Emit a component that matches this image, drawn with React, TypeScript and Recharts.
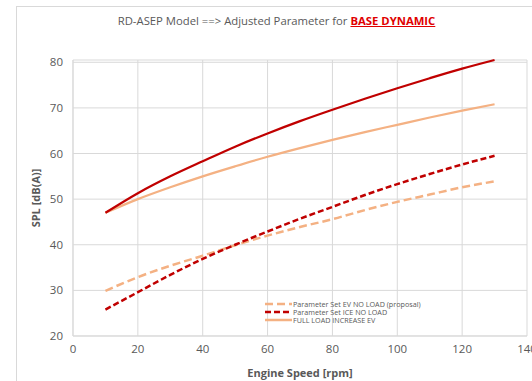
import { LineChart, Line, XAxis, YAxis, CartesianGrid } from 'recharts';

const speeds = [10, 20, 30, 40, 50, 60, 70, 80, 90, 100, 110, 120, 130];
const fullLoadIce = [47, 51.3, 55.0, 58.3, 61.5, 64.4, 67.1, 69.6, 72.0, 74.3, 76.5, 78.6, 80.5];
const fullLoadEv = [47, 50.0, 52.6, 55.0, 57.2, 59.3, 61.2, 63.0, 64.7, 66.3, 67.9, 69.4, 70.8];
const iceNoLoad = [25.8, 29.6, 33.4, 36.9, 40.0, 42.9, 45.7, 48.3, 50.9, 53.3, 55.5, 57.6, 59.5];
const evNoLoad = [29.9, 32.9, 35.4, 37.6, 39.9, 42.0, 43.9, 45.6, 47.6, 49.4, 51.0, 52.6, 53.9];

const xTicks = [0, 20, 40, 60, 80, 100, 120, 140];
const yTicks = [20, 30, 40, 50, 60, 70, 80];

const data = speeds.map((s, i) => ({
  speed: s,
  fullIce: fullLoadIce[i],
  fullEv: fullLoadEv[i],
  iceNL: iceNoLoad[i],
  evNL: evNoLoad[i],
}));

const DARK = '#C00000';
const LIGHT = '#F4B183';
const GRID = '#D9D9D9';
const TEXT = '#595959';
const FONT = '"Open Sans", sans-serif';

const legendItems = [
  { label: 'Parameter Set EV NO LOAD (proposal)', color: LIGHT, dash: '8 4' },
  { label: 'Parameter Set ICE NO LOAD', color: DARK, dash: '6 3' },
  { label: 'FULL LOAD INCREASE EV', color: LIGHT, dash: '' },
];

// legend sits inside the plot area, like the Excel original
function ChartLegend() {
  return (
    <div
      style={{
        position: 'absolute',
        left: 265,
        top: 300,
        fontFamily: FONT,
        fontSize: 7.2,
        color: TEXT,
        lineHeight: '8px',
      }}
    >
      {legendItems.map((it) => (
        <div key={it.label} style={{ display: 'flex', alignItems: 'center', whiteSpace: 'nowrap', height: 8 }}>
          <svg width={27} height={6}>
            <line x1={0} y1={3} x2={27} y2={3} stroke={it.color} strokeWidth={2.5} strokeDasharray={it.dash || undefined} />
          </svg>
          <span style={{ marginLeft: 1, lineHeight: '8px' }}>{it.label}</span>
        </div>
      ))}
    </div>
  );
}

export default function App() {
  return (
    <div style={{ position: 'absolute', left: 0, top: 0, width: 532, height: 381, background: '#fff', overflow: 'hidden' }}>
      <div
        style={{
          position: 'absolute',
          left: 16,
          top: 6,
          width: 600,
          height: 500,
          border: '1px solid #D9D9D9',
        }}
      />
      <div
        style={{
          position: 'absolute',
          left: 0,
          top: 13,
          width: 553,
          textAlign: 'center',
          fontFamily: FONT,
          fontSize: 11.3,
          color: TEXT,
          whiteSpace: 'nowrap',
        }}
      >
        RD-ASEP Model ==&gt; Adjusted Parameter for{' '}
        <span style={{ color: '#E00000', fontWeight: 'bold', textDecoration: 'underline' }}>BASE DYNAMIC</span>
      </div>
      <div style={{ position: 'absolute', left: 0, top: 0 }}>
        <LineChart width={532} height={381} data={data} margin={{ top: 60, right: 5, bottom: 0, left: 0 }}>
          <CartesianGrid stroke={GRID} strokeWidth={1} />
          <XAxis
            dataKey="speed"
            type="number"
            domain={[0, 140]}
            ticks={xTicks}
            interval={0}
            height={45}
            stroke={GRID}
            tickLine={false}
            tickSize={0}
            tickMargin={9}
            tick={{ fill: TEXT, fontSize: 11.5, fontFamily: FONT }}
            label={{
              value: 'Engine Speed [rpm]',
              position: 'insideBottom',
              offset: 4,
              style: { fill: TEXT, fontSize: 11, fontWeight: 'bold', fontFamily: FONT },
            }}
          />
          <YAxis
            type="number"
            domain={[20, 80]}
            ticks={yTicks}
            interval={0}
            width={73}
            stroke={GRID}
            tickLine={false}
            tickSize={0}
            tickMargin={10}
            tick={{ fill: TEXT, fontSize: 11.5, fontFamily: FONT }}
            label={{
              value: 'SPL [dB(A)]',
              angle: -90,
              position: 'center',
              style: { fill: TEXT, fontSize: 11, fontWeight: 'bold', fontFamily: FONT },
            }}
          />
          <Line dataKey="evNL" type="monotone" stroke={LIGHT} strokeWidth={2.5} strokeDasharray="8 4" dot={false} isAnimationActive={false} />
          <Line dataKey="iceNL" type="monotone" stroke={DARK} strokeWidth={2.5} strokeDasharray="6 3" dot={false} isAnimationActive={false} />
          <Line dataKey="fullEv" type="monotone" stroke={LIGHT} strokeWidth={2.25} dot={false} isAnimationActive={false} />
          <Line dataKey="fullIce" type="monotone" stroke={DARK} strokeWidth={2.25} dot={false} isAnimationActive={false} />
        </LineChart>
      </div>
      <ChartLegend />
    </div>
  );
}
